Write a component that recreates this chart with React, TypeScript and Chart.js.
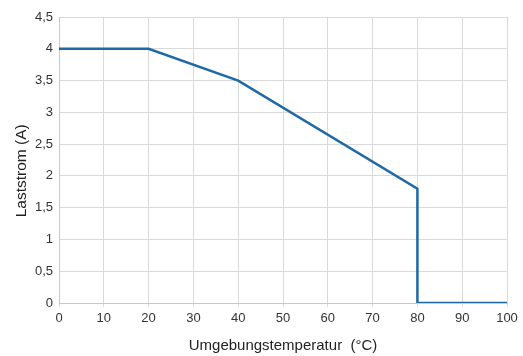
import React, { useEffect, useRef } from "react";
import { Chart, registerables } from "chart.js";

Chart.register(...registerables);

const xValues = [0, 20, 40, 80, 80, 100];
const yValues = [4, 4, 3.5, 1.8, 0, 0];
const xTitle = "Umgebungstemperatur  (°C)";
const yTitle = "Laststrom (A)\u00a0\u00a0\u00a0\u00a0\u00a0";

export default function App() {
  const ref = useRef<HTMLCanvasElement>(null);
  useEffect(() => {
    document.body.style.margin = "0";
    const ctx = ref.current!;
    const family = "'Liberation Sans', Arial, sans-serif";
    const font = { family, size: 13 };
    const chart = new Chart(ctx, {
      type: "line",
      data: {
        datasets: [
          {
            data: xValues.map((x, i) => ({ x, y: yValues[i] })),
            borderColor: "#1f69a6",
            borderWidth: 2.5,
            pointRadius: 0,
            fill: false,
            tension: 0,
          },
        ],
      },
      options: {
        animation: false,
        responsive: false,
        maintainAspectRatio: false,
        layout: { padding: { left: 0, right: 16, top: 17, bottom: 0 } },
        plugins: { legend: { display: false }, tooltip: { enabled: false } },
        scales: {
          x: {
            type: "linear",
            min: 0,
            max: 100,
            ticks: { stepSize: 10, color: "#333", font, padding: 4, maxRotation: 0 },
            grid: { color: "#d9d9d9", tickLength: 4, lineWidth: 1 },
            border: { color: "#c8c8c8" },
            title: {
              display: true,
              text: xTitle,
              color: "#222",
              font: { family, size: 15 },
              padding: { top: 4, bottom: 1 },
            },
            afterFit: (s: any) => {
              s.height = 53;
            },
          },
          y: {
            min: 0,
            max: 4.5,
            ticks: {
              stepSize: 0.5,
              color: "#333",
              font,
              padding: 6,
              callback: (v: any) => String(v).replace(".", ","),
            },
            grid: { color: "#d9d9d9", drawTicks: false, lineWidth: 1 },
            border: { color: "#c8c8c8" },
            title: {
              display: true,
              text: yTitle,
              color: "#222",
              font: { family, size: 15.5 },
              padding: { top: 12, bottom: 4 },
            },
            afterFit: (s: any) => {
              s.width = 59;
            },
          },
        },
      },
    } as any);
    return () => chart.destroy();
  }, []);
  return (
    <div style={{ position: "absolute", left: 0, top: 0, width: 523, height: 356 }}>
      <canvas ref={ref} width={523} height={356} style={{ width: 523, height: 356 }} />
    </div>
  );
}
